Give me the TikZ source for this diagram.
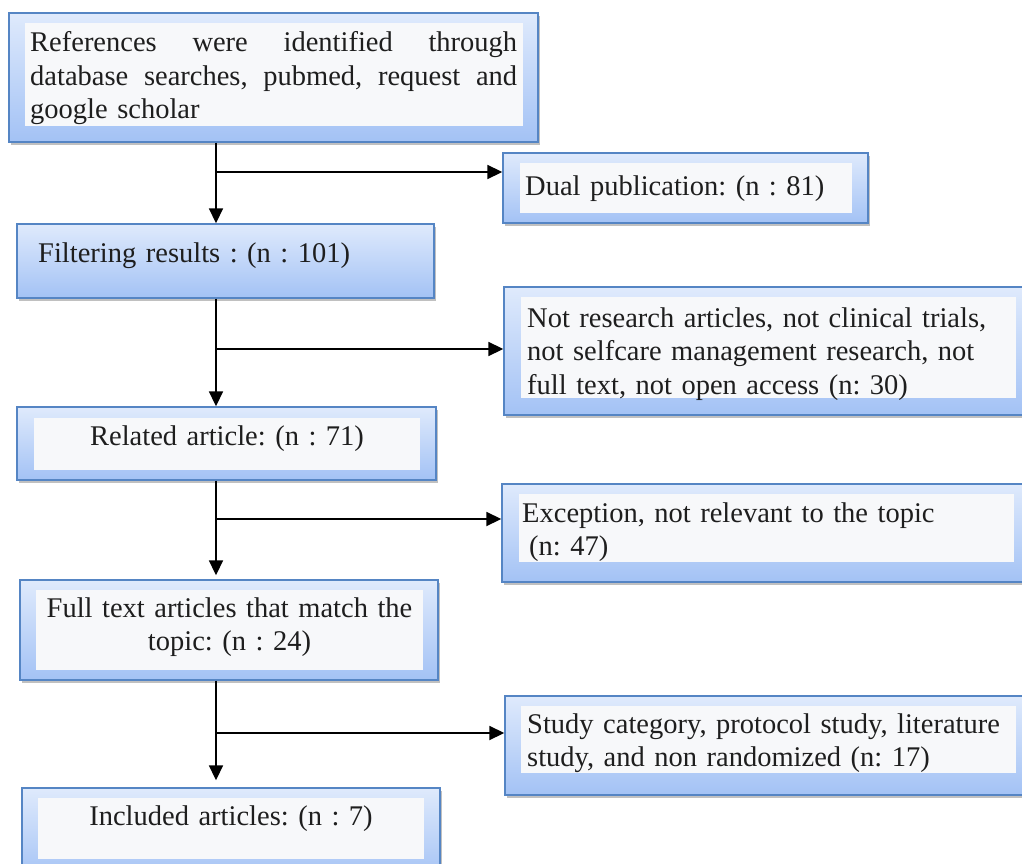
\documentclass[tikz,border=0pt]{standalone}
\usepackage{fontspec}
\setmainfont{Liberation Serif}
\usetikzlibrary{shadows,arrows.meta}
\definecolor{bordc}{HTML}{5585C4}
\definecolor{topc}{HTML}{DFEAFC}
\definecolor{botc}{HTML}{A3C2F5}
\definecolor{innc}{HTML}{F7F8FA}
\definecolor{txtc}{HTML}{1E1E1E}
\frenchspacing
\begin{document}
\begin{tikzpicture}[x=1pt,y=-1pt,
  outerbox/.style={draw=bordc,line width=1.4pt,inner sep=0pt,top color=topc,bottom color=botc,
    drop shadow={shadow xshift=2pt,shadow yshift=-3pt,opacity=.35,fill=black!70}},
  innerbox/.style={fill=innc,draw=none,inner sep=0pt},
  boxfont/.style={font=\fontsize{28.5}{33.5}\selectfont\frenchspacing,text=txtc},
  txt/.style={boxfont,inner sep=0pt,anchor=base west,text width=500pt,align=left},
  ctxt/.style={boxfont,inner sep=0pt,anchor=base,align=center},
  conn/.style={line width=1.8pt,black},
  arr/.style={conn,-{Triangle[length=15pt,width=14pt]}}]
\clip (0,0) rectangle (1022,864);
\fill[white] (0,0) rectangle (1022,864);
% box 1
\node[outerbox,minimum width=529pt,minimum height=129pt] (b1) at (273.5,77.5) {};
\node[innerbox,minimum width=498pt,minimum height=103pt] (b1i) at (274,74.5) {};
\node[txt,text width=487pt] (t1) at (30,52) {\leavevmode\hbox to 487pt{References\hfill were\hfill identified\hfill through}\\
\leavevmode\hbox to 487pt{database\hfill searches,\hfill pubmed,\hfill request\hfill and}\\
google scholar};
% box 2
\node[outerbox,minimum width=365pt,minimum height=70pt] (b2) at (685.5,188) {};
\node[innerbox,minimum width=332pt,minimum height=50pt] (b2i) at (686,188) {};
\node[txt] (t2) at (525,195) {Dual publication: (n : 81)};
% box 3
\node[outerbox,minimum width=417pt,minimum height=74pt] (b3) at (225.5,261) {};
\node[txt] (t3) at (38,262) {Filtering results : (n : 101)};
% box 4
\node[outerbox,minimum width=536pt,minimum height=128pt] (b4) at (772,351) {};
\node[innerbox,minimum width=495pt,minimum height=101pt] (b4i) at (768.5,347.5) {};
\node[txt] (t4) at (527,327) {Not research articles, not clinical trials,\\not selfcare management research, not\\full text, not open access (n: 30)};
% box 5
\node[outerbox,minimum width=419pt,minimum height=73pt] (b5) at (226.5,443.5) {};
\node[innerbox,minimum width=386pt,minimum height=52pt] (b5i) at (227,444) {};
\node[ctxt,text width=386pt] (t5) at (227,445) {Related article: (n : 71)};
% box 6
\node[outerbox,minimum width=538pt,minimum height=98pt] (b6) at (771,533) {};
\node[innerbox,minimum width=495pt,minimum height=68pt] (b6i) at (766.5,528) {};
\node[txt] (t6) at (522,522) {Exception, not relevant to the topic\\\hspace*{7pt}(n: 47)};
% box 7
\node[outerbox,minimum width=418pt,minimum height=100pt] (b7) at (229,630) {};
\node[innerbox,minimum width=387pt,minimum height=80pt] (b7i) at (229.5,630) {};
\node[ctxt,text width=387pt] (t7) at (229.5,617) {Full text articles that match the\\topic: (n : 24)};
% box 8
\node[outerbox,minimum width=535pt,minimum height=99pt] (b8) at (772.5,745.5) {};
\node[innerbox,minimum width=495pt,minimum height=67pt] (b8i) at (768.5,739.5) {};
\node[txt] (t8) at (527,733) {Study category, protocol study, literature\\study, and non randomized (n: 17)};
% box 9
\node[outerbox,minimum width=418pt,minimum height=92pt] (b9) at (231,834) {};
\node[innerbox,minimum width=386pt,minimum height=61pt] (b9i) at (231,828.5) {};
\node[ctxt,text width=386pt] (t9) at (231,825) {Included articles: (n : 7)};
% connectors
\coordinate (j1) at (216,172);
\coordinate (j2) at (216,349);
\coordinate (j3) at (216,519);
\coordinate (j4) at (216,733);
\draw[conn] (b1.south -| j1) -- (j1);
\draw[arr] (j1) -- (j1 |- b3.north);
\draw[arr] (j1) -- (j1 -| b2.west);
\draw[conn] (b3.south -| j2) -- (j2);
\draw[arr] (j2) -- (j2 |- b5.north);
\draw[arr] (j2) -- (j2 -| b4.west);
\draw[conn] (b5.south -| j3) -- (j3);
\draw[arr,shorten >=4pt] (j3) -- (j3 |- b7.north);
\draw[arr] (j3) -- (j3 -| b6.west);
\draw[conn] (b7.south -| j4) -- (j4);
\draw[arr,shorten >=7pt] (j4) -- (j4 |- b9.north);
\draw[arr] (j4) -- (j4 -| b8.west);
\end{tikzpicture}
\end{document}
